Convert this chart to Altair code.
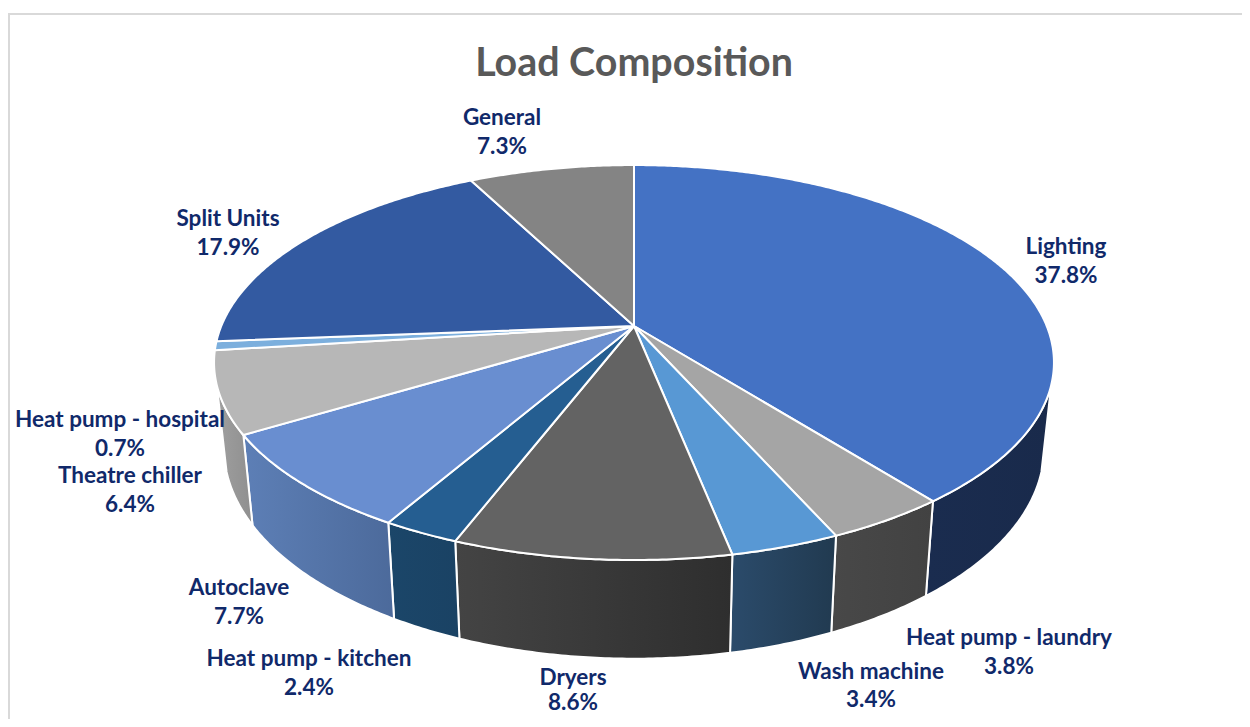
import math
import altair as alt
import pandas as pd

# ---- data ----
categories = ["Lighting", "Heat pump - laundry", "Wash machine", "Dryers", "Heat pump - kitchen",
              "Autoclave", "Theatre chiller", "Heat pump - hospital", "Split Units", "General"]
shares = [37.8, 3.8, 3.4, 8.6, 2.4, 7.7, 6.4, 0.7, 17.9, 7.3]

top_colors = ["#4472c4", "#a5a5a5", "#5898d4", "#636363", "#255e91",
              "#698ed0", "#b7b7b7", "#7cafdd", "#335aa1", "#848484"]
wall_from = ["#1a2c4f", "#484848", "#2b4b6b", "#444444", "#1b4669",
             "#5d7fb6", "#9f9f9f", "#5d7fb6", "#335aa1", "#848484"]
wall_to = ["#192a4b", "#424242", "#213a50", "#2e2e2e", "#1a4264",
           "#4c6a9b", "#8f8f8f", "#5d7fb6", "#335aa1", "#848484"]

label_x = [1066, 1009, 871, 573, 309, 239, 130, 120, 228, 502]
label_y = [247, 638, 672, 678, 659, 588, 476, 420, 219, 118]
value_y = [276, 667, 700, 703, 688, 617, 505, 449, 248, 147]

# ---- projection of the tilted disc ----
CX, CY_TOP, CY_BOT = 634.0, 326.0, 409.0
R_TOP, R_BOT = 412.7, 403.0
A_TOP, A_BOT = 190.7, 203.5
K = 0.185
WALL_START, WALL_END = 107.0, 253.0
PLOT_W, PLOT_H = 1234, 711


def project(theta, cy, r, a):
    t = math.radians(theta)
    u, v = math.sin(t), -math.cos(t)
    w = 1 - K * v
    return CX + r * u / w, cy + a * v / w


def arc(t0, t1, cy, r, a):
    n = max(2, int(abs(t1 - t0) * 2) + 1)
    return [project(t0 + (t1 - t0) * i / (n - 1), cy, r, a) for i in range(n)]


def frame(points):
    return pd.DataFrame({"px": [p[0] for p in points], "py": [p[1] for p in points],
                         "o": list(range(len(points)))})


X = alt.X("px:Q", scale=alt.Scale(domain=[8, 8 + PLOT_W], range=[0, PLOT_W]), axis=None)
Y = alt.Y("py:Q", scale=alt.Scale(domain=[8, 8 + PLOT_H], range=[0, PLOT_H]), axis=None)


def polygon(points, fill, width):
    return alt.Chart(frame(points)).mark_line(fill=fill, stroke="white", strokeWidth=width).encode(
        x=X, y=Y, order="o:Q")


total = sum(shares)
edges = [0.0]
for s in shares:
    edges.append(edges[-1] + 360.0 * s / total)

layers = []
# border of the embedded chart
layers.append(alt.Chart(pd.DataFrame({"px": [9], "py": [13], "py2": [8 + PLOT_H]})).mark_rule(
    color="#d9d9d9", strokeWidth=2).encode(x=X, y=Y, y2="py2:Q"))
layers.append(alt.Chart(pd.DataFrame({"px": [8], "px2": [8 + PLOT_W], "py": [14]})).mark_rule(
    color="#d9d9d9", strokeWidth=2).encode(x=X, x2="px2:Q", y=Y))

# side walls
for i in range(len(shares)):
    a0, a1 = max(edges[i], WALL_START), min(edges[i + 1], WALL_END)
    if a1 <= a0:
        continue
    pts = arc(a0, a1, CY_TOP, R_TOP, A_TOP) + arc(a1, a0, CY_BOT, R_BOT, A_BOT)
    pts.append(pts[0])
    grad = alt.Gradient(gradient="linear", x1=0, x2=1, y1=0, y2=0,
                        stops=[alt.GradientStop(color=wall_from[i], offset=0),
                               alt.GradientStop(color=wall_to[i], offset=1)])
    layers.append(polygon(pts, grad, 2))

# top surface
centre = (CX, CY_TOP)
for i in range(len(shares)):
    pts = [centre] + arc(edges[i], edges[i + 1], CY_TOP, R_TOP, A_TOP) + [centre]
    layers.append(polygon(pts, top_colors[i], 2))

# labels
names = pd.DataFrame({"px": label_x, "py": label_y, "t": categories})
values = pd.DataFrame({"px": label_x, "py": value_y, "t": [f"{s}%" for s in shares]})
for df in (names, values):
    layers.append(alt.Chart(df).mark_text(font="Lato", fontWeight="bold", fontSize=22.5,
                                          color="#10296a", baseline="middle", align="center").encode(
        x=X, y=Y, text="t:N"))

title = pd.DataFrame({"px": [634], "py": [64], "t": ["Load Composition"]})
layers.append(alt.Chart(title).mark_text(font="Lato", fontWeight="bold", fontSize=39.4,
                                         color="#595959", baseline="middle", align="center").encode(
    x=X, y=Y, text="t:N"))

chart = alt.layer(*layers).properties(
    width=PLOT_W, height=PLOT_H, padding=0, autosize=alt.AutoSizeParams(type="none"),
    background="white"
).configure_view(stroke=None)

chart.save("out.html", embed_options={"renderer": "svg", "actions": False})
